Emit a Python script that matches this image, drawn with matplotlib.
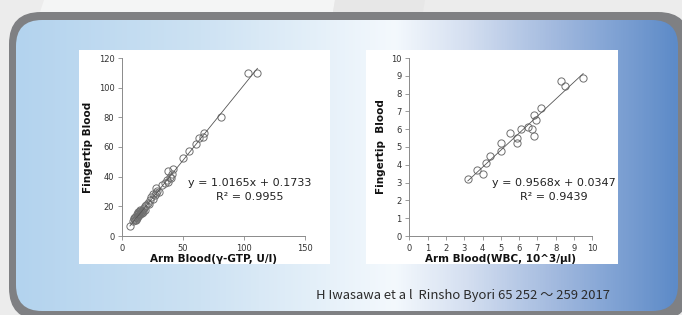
import matplotlib
matplotlib.use("Agg")
import matplotlib.pyplot as plt
import numpy as np
from matplotlib.patches import FancyBboxPatch, Rectangle, Polygon
from matplotlib.colors import LinearSegmentedColormap

# ---------------- data ----------------
ggt_arm = [6.5, 9, 9.5, 10, 10.5, 11, 11.5, 12, 12, 12.5, 13, 13, 13.5, 14, 14, 14.5,
           15, 15, 15.5, 16, 16.5, 17, 17, 18, 18.5, 19, 20, 21, 22, 23, 24, 25, 25.5,
           27, 28, 28, 29, 30, 33, 35, 37, 38, 38, 39, 40, 41, 42, 50, 55, 61, 63, 66,
           67, 81, 103, 111]
ggt_finger = [6.5, 10, 11.5, 12, 10.5, 12.5, 11, 13, 14.5, 12, 15, 16.5, 13.5, 14, 16, 17,
              15, 17.5, 16, 17, 15.5, 18, 16.5, 19, 17.5, 20.5, 21, 22.5, 21.5, 24.5, 26, 28.5, 25,
              27.5, 32.5, 29, 30.5, 30, 34.5, 35.5, 38, 43.5, 36.5, 40, 39, 42, 45, 52.5, 57.5, 62, 66, 67,
              69.5, 80.5, 110, 110]
ggt_slope, ggt_icpt, ggt_r2 = 1.0165, 0.1733, 0.9955

wbc_arm = [3.2, 3.7, 4.05, 4.2, 4.4, 5.0, 5.0, 5.5, 5.9, 5.9, 6.1, 6.5, 6.7, 6.8, 6.8, 6.9,
           7.2, 8.3, 8.5, 9.5]
wbc_finger = [3.2, 3.7, 3.5, 4.1, 4.5, 5.2, 4.8, 5.8, 5.5, 5.2, 6.0, 6.1, 6.0, 5.6, 6.8, 6.5,
              7.2, 8.7, 8.4, 8.9]
wbc_slope, wbc_icpt, wbc_r2 = 0.9568, 0.0347, 0.9439

ggt_xticks = [0, 50, 100, 150]
ggt_yticks = [0, 20, 40, 60, 80, 100, 120]
wbc_xticks = list(range(0, 11))
wbc_yticks = list(range(0, 11))

citation = "H Iwasawa et a l  Rinsho Byori 65 252 ～ 259 2017"

# ---------------- figure ----------------
W, H = 682, 315
fig = plt.figure(figsize=(W / 100, H / 100), dpi=100)
bg = fig.add_axes([0, 0, 1, 1])
bg.set_xlim(0, W)
bg.set_ylim(H, 0)
bg.axis("off")

bg.add_patch(Rectangle((0, 0), W, H, fc="#ececec", ec="none", zorder=0))
bg.add_patch(Polygon([(44, 0), (335, 0), (333, 12), (40, 12)], closed=True,
                     fc="#f4f5f5", ec="none", zorder=0.5))
bg.add_patch(Polygon([(335, 0), (425, 0), (423, 12), (333, 12)], closed=True,
                     fc="#e7e7e7", ec="none", zorder=0.5))

outer = FancyBboxPatch((9, 12), 690 - 9, 320 - 12,
                       boxstyle="round,pad=0,rounding_size=32",
                       fc="#7f8083", ec="none", zorder=1)
bg.add_patch(outer)
inner = FancyBboxPatch((16, 20), 678 - 16, 311 - 20,
                       boxstyle="round,pad=0,rounding_size=26",
                       fc="none", ec="none", zorder=2)
bg.add_patch(inner)

stops = [(0.0, "#b3d3ee"), ((200 - 16) / 662, "#cde2f3"), ((395 - 16) / 662, "#f4f9fd"),
         ((470 - 16) / 662, "#d3def0"), ((560 - 16) / 662, "#a0b8de"), (1.0, "#5d8bc8")]
cmap = LinearSegmentedColormap.from_list("g", stops)
grad = np.linspace(0, 1, 600).reshape(1, -1)
im = bg.imshow(grad, cmap=cmap, extent=(16, 678, 311, 20), aspect="auto",
               interpolation="bilinear", zorder=2)
im.set_clip_path(inner)
bg.set_xlim(0, W)
bg.set_ylim(H, 0)

bg.add_patch(Rectangle((79, 50), 251, 214, fc="white", ec="none", zorder=3))
bg.add_patch(Rectangle((366, 50), 252, 214, fc="white", ec="none", zorder=3))

bg.text(316, 295, citation, fontsize=9.4, color="#2b2b2b", ha="left", va="center",
        family=["Noto Sans CJK JP", "DejaVu Sans"], zorder=5)


def make_axes(rect, xs, ys, slope, icpt, r2, xticks, yticks, xlabel, ylabel,
              ylab_x, eq_x):
    ax = fig.add_axes(rect)
    ax.set_facecolor("none")
    ax.set_zorder(5)
    for s in ("top", "right"):
        ax.spines[s].set_visible(False)
    for s in ("left", "bottom"):
        ax.spines[s].set_color("#8a8a8a")
        ax.spines[s].set_linewidth(0.7)
    ax.set_xlim(xticks[0], xticks[-1])
    ax.set_ylim(yticks[0], yticks[-1])
    ax.set_xticks(xticks)
    ax.set_yticks(yticks)
    ax.tick_params(direction="out", length=3, width=0.6, color="#8a8a8a",
                   labelsize=6, labelcolor="#333333", pad=2.5)
    ax.plot(xs, ys, "o", mfc="none", mec="#6f6f6f", mew=0.7, ms=5.2, clip_on=False)
    xmin, xmax = min(xs), max(xs)
    lx = np.array([xmin, xmax])
    ax.plot(lx, slope * lx + icpt, color="#555555", lw=0.6)
    ax.text(0.5, -0.13, xlabel, transform=ax.transAxes, ha="center", va="center",
            fontsize=7.5, fontweight="bold", color="#111111")
    ax.text(ylab_x, 0.5, ylabel, transform=ax.transAxes, ha="center", va="center",
            rotation=90, fontsize=7.5, fontweight="bold", color="#111111")
    ax.text(eq_x, 0.298, f"y = {slope:.4f}x + {icpt:.4f}", transform=ax.transAxes,
            ha="center", va="center", fontsize=8, color="#222222")
    ax.text(eq_x, 0.22, f"R² = {r2:.4f}", transform=ax.transAxes,
            ha="center", va="center", fontsize=8, color="#222222")
    return ax


ax_l = make_axes([122 / W, 1 - 236 / H, 183 / W, 178 / H], ggt_arm, ggt_finger,
                 ggt_slope, ggt_icpt, ggt_r2, ggt_xticks, ggt_yticks,
                 "Arm Blood(γ-GTP, U/l)", "Fingertip Blood", -0.186, 0.70)
ax_r = make_axes([409.3 / W, 1 - 236 / H, 183 / W, 178 / H], wbc_arm, wbc_finger,
                 wbc_slope, wbc_icpt, wbc_r2, wbc_xticks, wbc_yticks,
                 "Arm Blood(WBC, 10^3/μl)", "Fingertip  Blood", -0.153, 0.79)

fig.savefig("out.png", dpi=100)
